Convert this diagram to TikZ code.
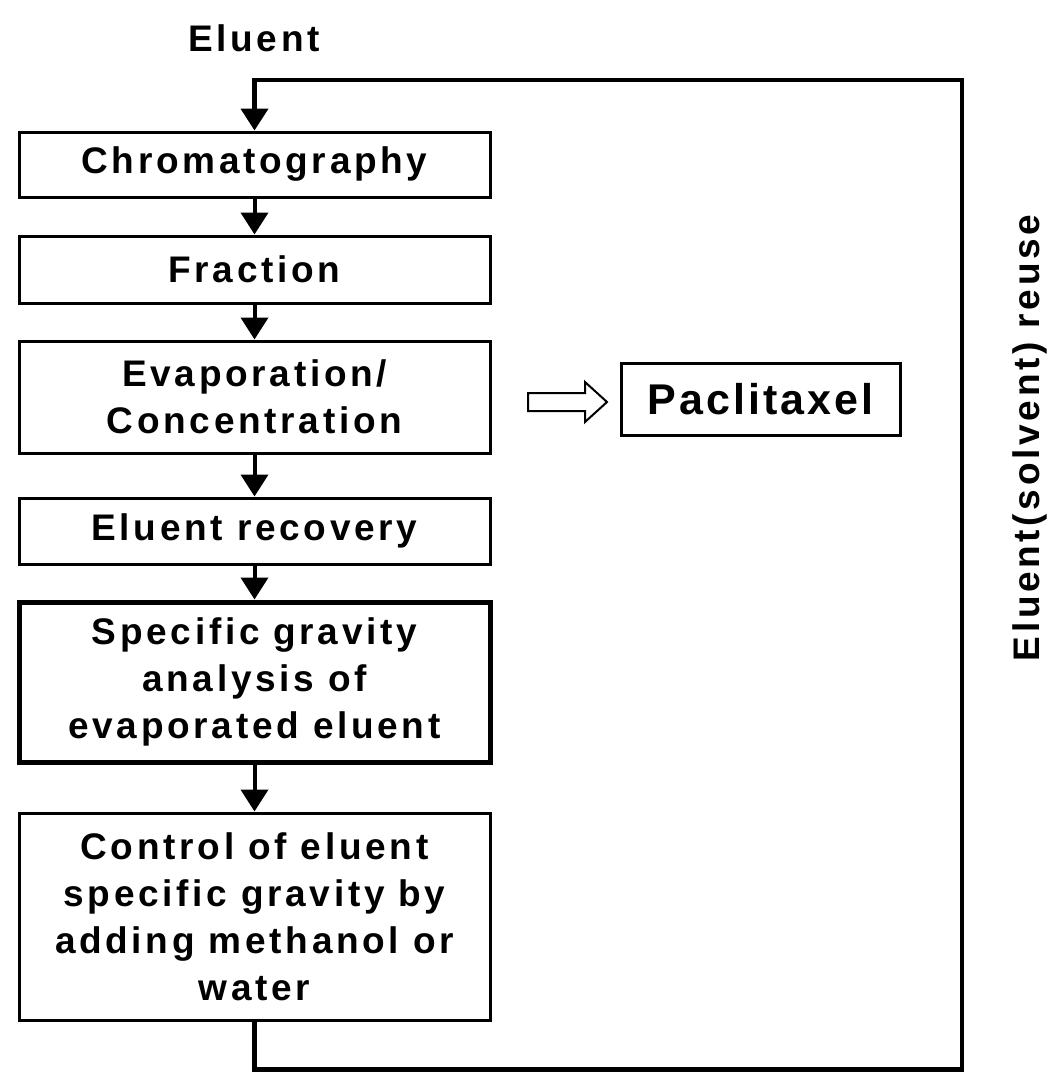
\documentclass[tikz,border=0pt]{standalone}
\usepackage{fontspec}
\setmainfont{Liberation Sans}[LetterSpace=10]
\usetikzlibrary{arrows.meta}

\tikzset{
  stepbox/.style={draw, line width=3pt, minimum width=471pt, inner sep=0pt,
    align=center, font=\fontsize{37}{47}\selectfont\bfseries},
  flow/.style={line width=4pt, -{Triangle[length=22pt,width=27pt]}},
  loopline/.style={line width=4.5pt},
}

\begin{document}
\begin{tikzpicture}[x=1pt,y=-1pt]
  \useasboundingbox (0,0) rectangle (1055,1072);

  % flow boxes
  \node[font=\fontsize{37}{47}\selectfont\bfseries] (eluent) at (254,38) {Eluent};
  \node[stepbox, minimum height=65pt] (chrom) at (254.5,164.5) {Chromatography};
  \node[stepbox, minimum height=67pt] (frac) at (254.5,269.5) {Fraction};
  \node[stepbox, minimum height=112pt] (evap) at (254.5,397) {Evaporation/\\Concentration};
  \node[stepbox, minimum height=66pt] (recov) at (254.5,531) {Eluent recovery};
  \node[stepbox, line width=5pt, minimum height=160pt] (spec) at (254.5,682) {Specific gravity\\analysis of\\evaporated eluent};
  \node[stepbox, minimum height=207pt] (ctrl) at (254.5,916.5) {Control of eluent\\specific gravity by\\adding methanol or\\water};

  % product
  \node[stepbox, minimum width=279pt, minimum height=72pt,
    font=\fontsize{43}{50}\selectfont\bfseries\addfontfeatures{LetterSpace=7}] (prod) at (760.5,399) {Paclitaxel};
  \coordinate (toprod) at (528,402);
  \draw[line width=2pt, line join=miter] (toprod) ++(0,-9) -- ++(57,0) -- ++(0,-11) -- ++(22,20)
    -- ++(-22,20) -- ++(0,-11) -- ++(-57,0) -- cycle;

  \draw[flow] (chrom) -- (frac);
  \draw[flow] (frac) -- (evap);
  \draw[flow] (evap) -- (recov);
  \draw[flow] (recov) -- (spec);
  \draw[flow] (spec) -- (ctrl);

  % reuse loop
  \coordinate (corner) at (962,80);
  \draw[loopline, -{Triangle[length=22pt,width=27pt]}] (ctrl.south) -- ++(0,48) -| (corner) -| (chrom.north);
  \node[rotate=90, font=\fontsize{37}{47}\selectfont\bfseries] (reuse) at (1030,438) {Eluent(solvent) reuse};

\end{tikzpicture}
\end{document}
